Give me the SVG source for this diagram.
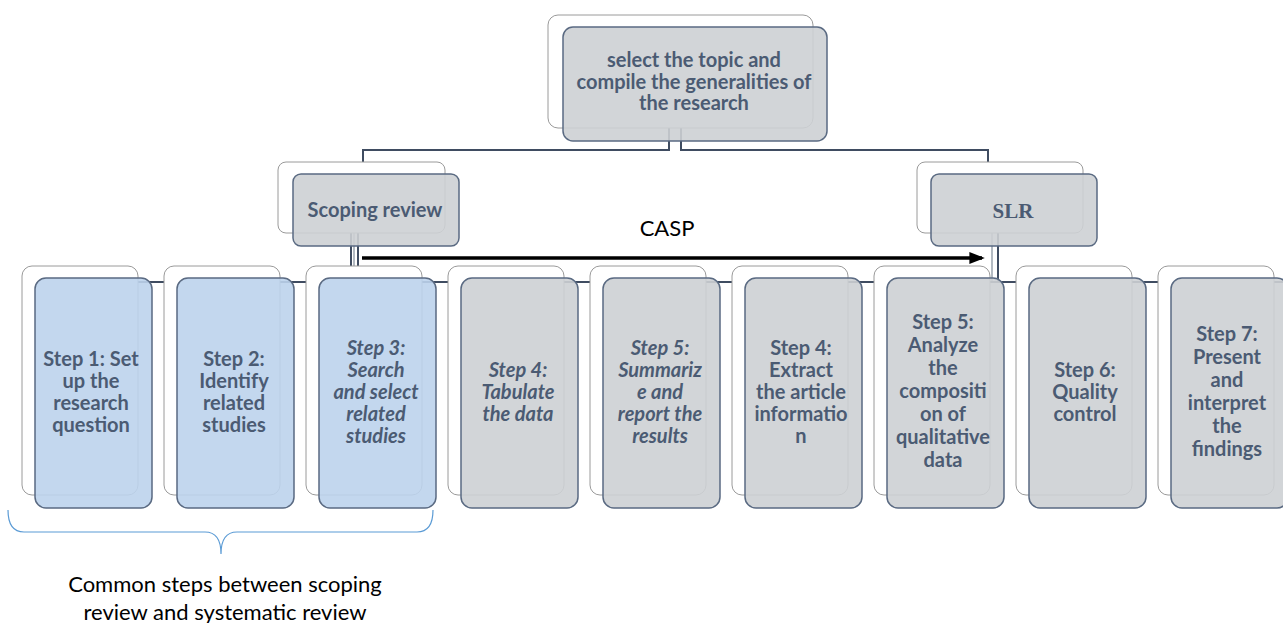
<svg xmlns="http://www.w3.org/2000/svg" width="1283" height="623" viewBox="0 0 1283 623">
<defs>
<marker id="ah" markerWidth="4.4" markerHeight="3.4" refX="3.6" refY="1.7" orient="auto" markerUnits="strokeWidth">
<path d="M0,0 L4.4,1.7 L0,3.4 Z" fill="#000"/>
</marker>
<style>
.bk{fill:#fff;stroke:#9a9a9a;stroke-width:1}
.fg{fill:#cdd0d4;fill-opacity:0.9;stroke:#5a6a82;stroke-width:1.5}
.fb{fill:#bcd3ec;fill-opacity:0.9;stroke:#5a6a82;stroke-width:1.5}
.t{font-family:Lato,"Liberation Sans",sans-serif;font-weight:bold;font-size:20px;fill:#4b5b73;text-anchor:middle}
.ti{font-style:italic}
.ts{font-family:"Liberation Serif",serif;font-weight:bold;font-size:21px;fill:#4b5b73;text-anchor:middle}
.c{fill:none;stroke:#3f4c61;stroke-width:2}
.cl{fill:none;stroke:#9aa3ae;stroke-width:1.5}
.plain{font-family:Lato,"Liberation Sans",sans-serif;font-size:22px;fill:#000;text-anchor:middle}
</style>
</defs>
<rect width="1283" height="623" fill="#fff"/>
<g id="connectors">
<path class="c" d="M669,128 V150 H363 V162"/>
<path class="c" d="M681,128 V150 H988 V162"/>
<path class="cl" d="M354,233 V282"/>
<path class="c" d="M351,233 V282"/>
<path class="c" d="M358,233 V282"/>
<path class="cl" d="M992,233 V282"/>
<path class="c" d="M998,233 V282"/>
<path class="c" d="M80,282 H1283"/>
</g>
<g id="n-top">
<rect class="bk" x="548" y="15" width="265" height="113" rx="10"/>
<rect class="fg" x="563" y="27" width="264" height="114" rx="10"/>
<text class="t"><tspan x="694" y="67">select the topic and</tspan><tspan x="694" y="88.5">compile the generalities of</tspan><tspan x="694" y="110">the research</tspan></text>
</g>
<g id="n-scoping">
<rect class="bk" x="278" y="162" width="167" height="71" rx="8"/>
<rect class="fg" x="293" y="174" width="166" height="72" rx="8"/>
<text class="t" x="375" y="217">Scoping review</text>
</g>
<g id="n-slr">
<rect class="bk" x="917" y="162" width="166" height="71" rx="8"/>
<rect class="fg" x="931" y="174" width="166" height="72" rx="8"/>
<text class="ts" x="1013" y="217.5">SLR</text>
</g>
<g id="s1">
<rect class="bk" x="22" y="266" width="116" height="229" rx="10"/>
<rect class="fb" x="35" y="278" width="117" height="230" rx="11"/>
<text class="t"><tspan x="91" y="366">Step 1: Set</tspan><tspan x="91" y="388">up the</tspan><tspan x="91" y="410">research</tspan><tspan x="91" y="432">question</tspan></text>
</g>
<g id="s2">
<rect class="bk" x="164" y="266" width="116" height="229" rx="10"/>
<rect class="fb" x="177" y="278" width="117" height="230" rx="11"/>
<text class="t"><tspan x="234" y="366">Step 2:</tspan><tspan x="234" y="388">Identify</tspan><tspan x="234" y="410">related</tspan><tspan x="234" y="432">studies</tspan></text>
</g>
<g id="s3">
<rect class="bk" x="306" y="266" width="116" height="229" rx="10"/>
<rect class="fb" x="319" y="278" width="117" height="230" rx="11"/>
<text class="t ti"><tspan x="376" y="355">Step 3:</tspan><tspan x="376" y="377">Search</tspan><tspan x="376" y="399">and select</tspan><tspan x="376" y="421">related</tspan><tspan x="376" y="443">studies</tspan></text>
</g>
<g id="s4">
<rect class="bk" x="448" y="266" width="116" height="229" rx="10"/>
<rect class="fg" x="461" y="278" width="117" height="230" rx="11"/>
<text class="t ti"><tspan x="518" y="377">Step 4:</tspan><tspan x="518" y="399">Tabulate</tspan><tspan x="518" y="421">the data</tspan></text>
</g>
<g id="s5">
<rect class="bk" x="590" y="266" width="116" height="229" rx="10"/>
<rect class="fg" x="603" y="278" width="117" height="230" rx="11"/>
<text class="t ti"><tspan x="660" y="355">Step 5:</tspan><tspan x="660" y="377">Summariz</tspan><tspan x="660" y="399">e and</tspan><tspan x="660" y="421">report the</tspan><tspan x="660" y="443">results</tspan></text>
</g>
<g id="s6">
<rect class="bk" x="732" y="266" width="116" height="229" rx="10"/>
<rect class="fg" x="745" y="278" width="117" height="230" rx="11"/>
<text class="t"><tspan x="801" y="355">Step 4:</tspan><tspan x="801" y="377">Extract</tspan><tspan x="801" y="399">the article</tspan><tspan x="801" y="421">informatio</tspan><tspan x="801" y="443">n</tspan></text>
</g>
<g id="s7">
<rect class="bk" x="874" y="266" width="116" height="229" rx="10"/>
<rect class="fg" x="887" y="278" width="117" height="230" rx="11"/>
<text class="t"><tspan x="943" y="329">Step 5:</tspan><tspan x="943" y="352">Analyze</tspan><tspan x="943" y="375">the</tspan><tspan x="943" y="398">compositi</tspan><tspan x="943" y="421">on of</tspan><tspan x="943" y="444">qualitative</tspan><tspan x="943" y="467">data</tspan></text>
</g>
<g id="s8">
<rect class="bk" x="1016" y="266" width="116" height="229" rx="10"/>
<rect class="fg" x="1029" y="278" width="117" height="230" rx="11"/>
<text class="t"><tspan x="1085" y="377">Step 6:</tspan><tspan x="1085" y="399">Quality</tspan><tspan x="1085" y="421">control</tspan></text>
</g>
<g id="s9">
<rect class="bk" x="1158" y="266" width="116" height="229" rx="10"/>
<rect class="fg" x="1171" y="278" width="117" height="230" rx="11"/>
<text class="t"><tspan x="1227" y="341">Step 7:</tspan><tspan x="1227" y="364">Present</tspan><tspan x="1227" y="387">and</tspan><tspan x="1227" y="410">interpret</tspan><tspan x="1227" y="433">the</tspan><tspan x="1227" y="456">findings</tspan></text>
</g>
<g id="casp">
<line x1="362" y1="258" x2="982" y2="258" stroke="#000" stroke-width="3.5" marker-end="url(#ah)"/>
<text class="plain" x="667" y="236">CASP</text>
</g>
<g id="common">
<path d="M8,510 Q8,532 24,532 H205 Q221,532 221,554 Q221,532 237,532 H417 Q433,532 433,510" fill="none" stroke="#5b9bd5" stroke-width="1.2"/>
<text class="plain"><tspan x="225" y="592">Common steps between scoping</tspan><tspan x="225" y="620">review and systematic review</tspan></text>
</g>
</svg>
